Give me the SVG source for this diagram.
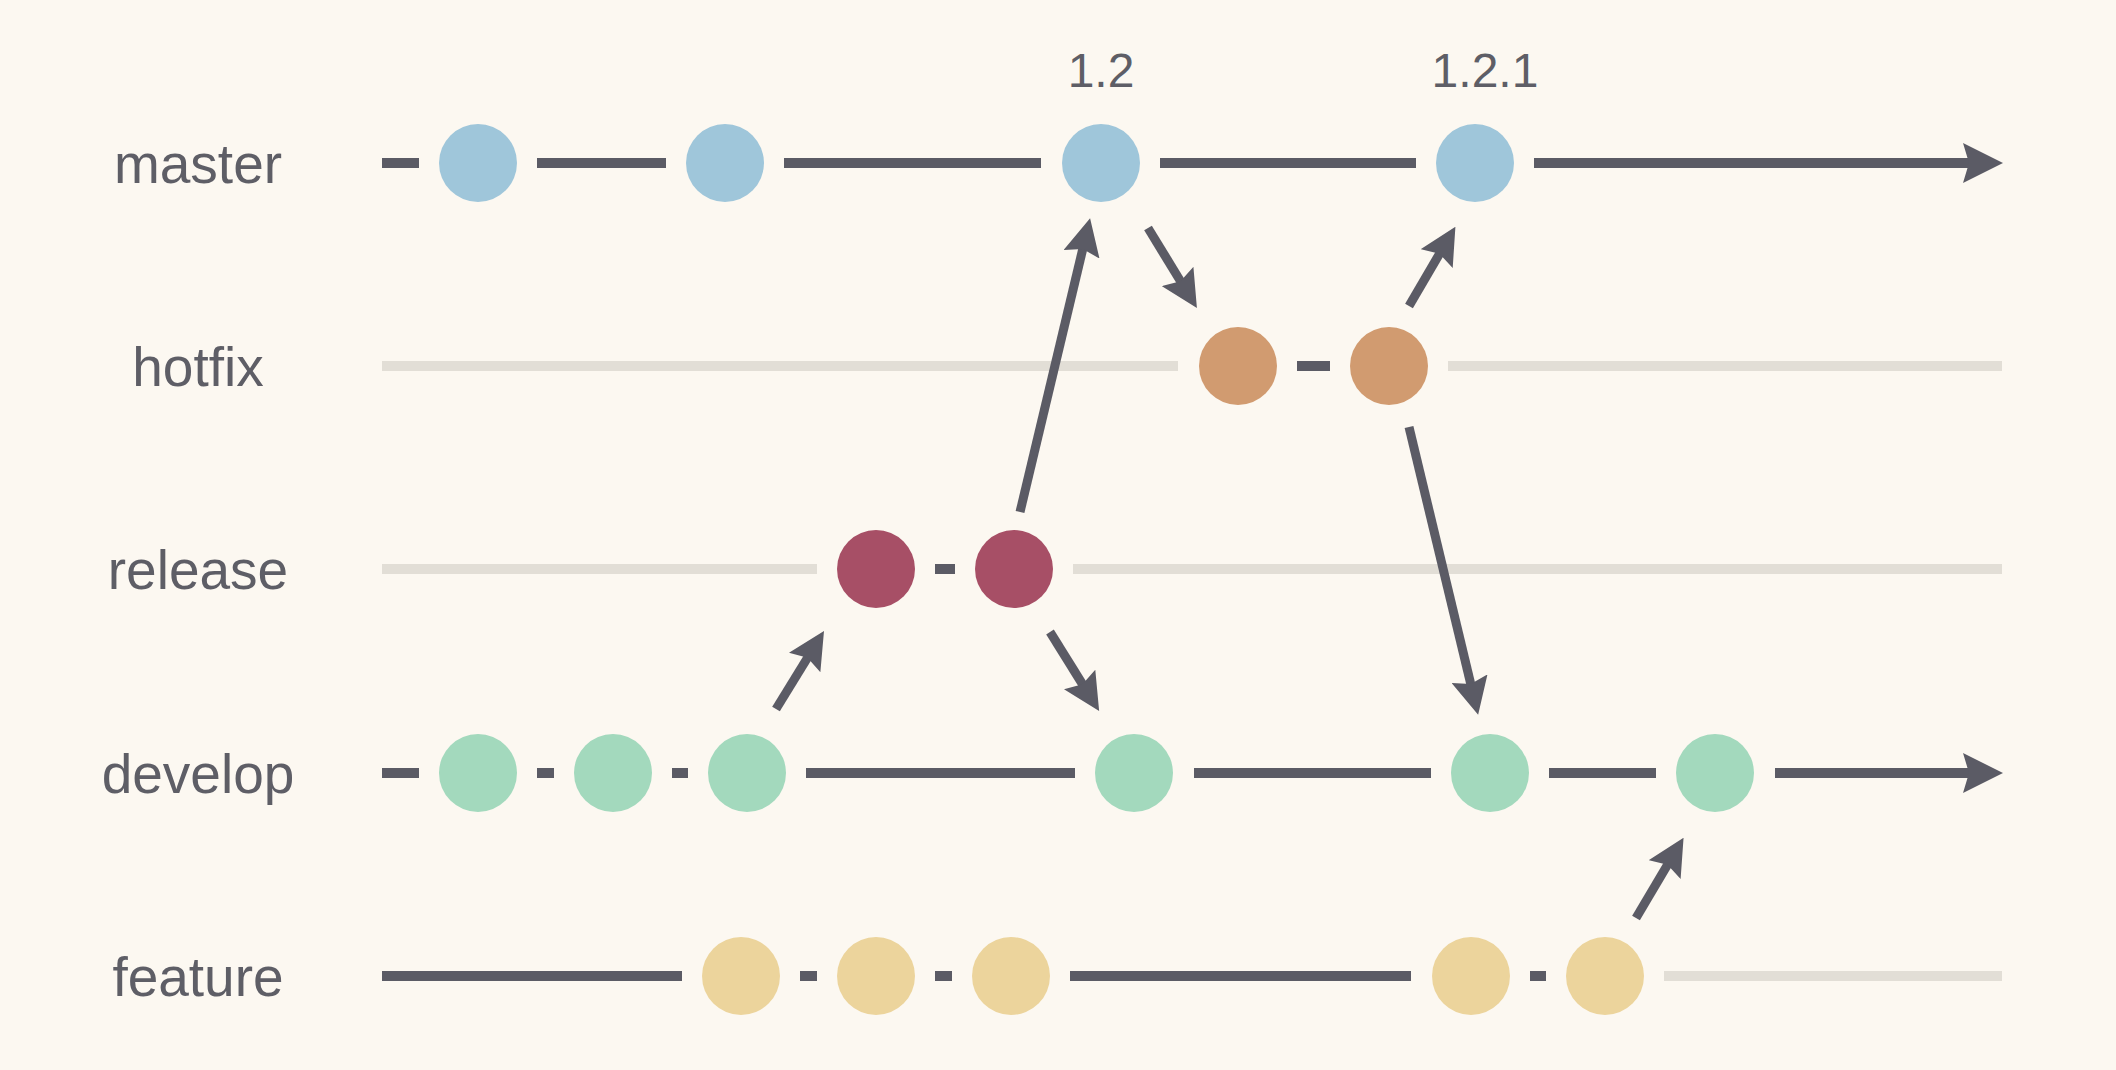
<svg xmlns="http://www.w3.org/2000/svg" width="2116" height="1070" viewBox="0 0 2116 1070">
<style>
.lbl{font-family:"Liberation Sans",Arial,sans-serif;font-size:55px;fill:#5e5e66;text-anchor:middle}
.ver{font-family:"Liberation Sans",Arial,sans-serif;font-size:48px;fill:#5e5e66;text-anchor:middle}
.d{stroke:#5b5b65;stroke-width:10;fill:none}
.l{stroke:#e2ded6;stroke-width:10;fill:none}
.a{stroke:#5b5b65;stroke-width:9;fill:none;marker-end:url(#hs)}
.m{fill:#9fc6da}.h{fill:#d19b70}.r{fill:#a74f66}.v{fill:#a3d9bd}.f{fill:#ecd49c}
</style>
<defs>
<marker id="hb" viewBox="-40 -20 40 40" refX="-33" refY="0" markerWidth="40" markerHeight="40" markerUnits="userSpaceOnUse" orient="auto"><path d="M0,0 L-40,-20 L-34,0 L-40,20 Z" fill="#5b5b65"/></marker>
<marker id="hs" viewBox="-40 -20 40 40" refX="-33" refY="0" markerWidth="37" markerHeight="37" markerUnits="userSpaceOnUse" orient="auto"><path d="M0,0 L-40,-20 L-34,0 L-40,20 Z" fill="#5b5b65"/></marker>
</defs>
<rect width="2116" height="1070" fill="#fcf8f1"/>
<g id="labels">
<text class="lbl" x="198" y="183">master</text>
<text class="lbl" x="198" y="386">hotfix</text>
<text class="lbl" x="198" y="589">release</text>
<text class="lbl" x="198" y="793">develop</text>
<text class="lbl" x="198" y="996">feature</text>
<text class="ver" x="1101" y="87">1.2</text>
<text class="ver" x="1485" y="87">1.2.1</text>
</g>
<g id="connectors">
<line class="d" x1="382" y1="163" x2="419" y2="163"/>
<line class="d" x1="537" y1="163" x2="666" y2="163"/>
<line class="d" x1="784" y1="163" x2="1041" y2="163"/>
<line class="d" x1="1160" y1="163" x2="1416" y2="163"/>
<line class="d" x1="1534" y1="163" x2="1970" y2="163" marker-end="url(#hb)"/>
<line class="l" x1="382" y1="366" x2="1178" y2="366"/>
<line class="d" x1="1297" y1="366" x2="1330" y2="366"/>
<line class="l" x1="1448" y1="366" x2="2002" y2="366"/>
<line class="l" x1="382" y1="569" x2="817" y2="569"/>
<line class="d" x1="935" y1="569" x2="955" y2="569"/>
<line class="l" x1="1073" y1="569" x2="2002" y2="569"/>
<line class="d" x1="382" y1="773" x2="419" y2="773"/>
<line class="d" x1="537" y1="773" x2="554" y2="773"/>
<line class="d" x1="672" y1="773" x2="688" y2="773"/>
<line class="d" x1="806" y1="773" x2="1075" y2="773"/>
<line class="d" x1="1194" y1="773" x2="1431" y2="773"/>
<line class="d" x1="1549" y1="773" x2="1656" y2="773"/>
<line class="d" x1="1775" y1="773" x2="1970" y2="773" marker-end="url(#hb)"/>
<line class="d" x1="382" y1="976" x2="682" y2="976"/>
<line class="d" x1="800" y1="976" x2="817" y2="976"/>
<line class="d" x1="935" y1="976" x2="952" y2="976"/>
<line class="d" x1="1070" y1="976" x2="1411" y2="976"/>
<line class="d" x1="1530" y1="976" x2="1546" y2="976"/>
<line class="l" x1="1664" y1="976" x2="2002" y2="976"/>
<line class="a" x1="776" y1="709" x2="808" y2="657"/>
<line class="a" x1="1020" y1="512" x2="1083" y2="248"/>
<line class="a" x1="1148" y1="228" x2="1181" y2="282"/>
<line class="a" x1="1409" y1="306" x2="1440" y2="253"/>
<line class="a" x1="1409" y1="427" x2="1471" y2="685"/>
<line class="a" x1="1050" y1="632" x2="1083" y2="685"/>
<line class="a" x1="1636" y1="918" x2="1668" y2="864"/>
</g>
<g id="m1"><circle class="m" cx="478" cy="163" r="39"/></g>
<g id="m2"><circle class="m" cx="725" cy="163" r="39"/></g>
<g id="m3"><circle class="m" cx="1101" cy="163" r="39"/></g>
<g id="m4"><circle class="m" cx="1475" cy="163" r="39"/></g>
<g id="h1"><circle class="h" cx="1238" cy="366" r="39"/></g>
<g id="h2"><circle class="h" cx="1389" cy="366" r="39"/></g>
<g id="r1"><circle class="r" cx="876" cy="569" r="39"/></g>
<g id="r2"><circle class="r" cx="1014" cy="569" r="39"/></g>
<g id="d1"><circle class="v" cx="478" cy="773" r="39"/></g>
<g id="d2"><circle class="v" cx="613" cy="773" r="39"/></g>
<g id="d3"><circle class="v" cx="747" cy="773" r="39"/></g>
<g id="d4"><circle class="v" cx="1134" cy="773" r="39"/></g>
<g id="d5"><circle class="v" cx="1490" cy="773" r="39"/></g>
<g id="d6"><circle class="v" cx="1715" cy="773" r="39"/></g>
<g id="f1"><circle class="f" cx="741" cy="976" r="39"/></g>
<g id="f2"><circle class="f" cx="876" cy="976" r="39"/></g>
<g id="f3"><circle class="f" cx="1011" cy="976" r="39"/></g>
<g id="f4"><circle class="f" cx="1471" cy="976" r="39"/></g>
<g id="f5"><circle class="f" cx="1605" cy="976" r="39"/></g>
</svg>
